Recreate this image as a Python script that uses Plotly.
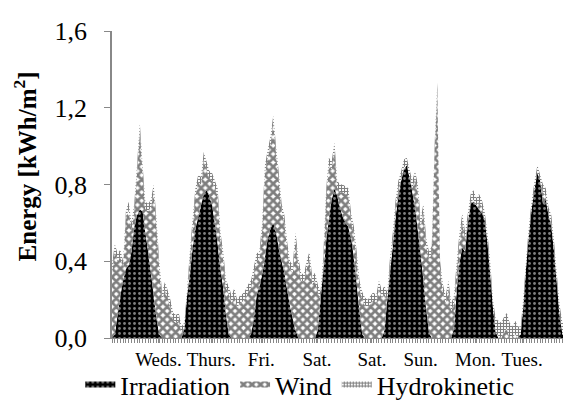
import plotly.graph_objects as go

# hourly samples over one week
hours = list(range(168))

irradiation = [
    0.00, 0.02, 0.12, 0.22, 0.30, 0.36, 0.38, 0.45, 0.58, 0.64, 0.67, 0.66,
    0.55, 0.45, 0.34, 0.22, 0.10, 0.02, 0.00, 0.00, 0.00, 0.00, 0.00, 0.00,
    0.00, 0.00, 0.05, 0.22, 0.33, 0.47, 0.57, 0.63, 0.69, 0.75, 0.77, 0.74,
    0.69, 0.60, 0.49, 0.36, 0.26, 0.12, 0.02, 0.00, 0.00, 0.00, 0.00, 0.00,
    0.00, 0.00, 0.02, 0.10, 0.22, 0.27, 0.33, 0.42, 0.52, 0.57, 0.60, 0.55,
    0.47, 0.40, 0.34, 0.25, 0.17, 0.10, 0.04, 0.00, 0.00, 0.00, 0.00, 0.00,
    0.00, 0.00, 0.04, 0.20, 0.35, 0.50, 0.62, 0.72, 0.78, 0.74, 0.68, 0.63,
    0.60, 0.58, 0.52, 0.42, 0.28, 0.14, 0.02, 0.00, 0.00, 0.00, 0.00, 0.00,
    0.00, 0.00, 0.04, 0.20, 0.34, 0.48, 0.63, 0.74, 0.82, 0.88, 0.90, 0.84,
    0.76, 0.68, 0.56, 0.44, 0.30, 0.15, 0.03, 0.00, 0.00, 0.00, 0.00, 0.00,
    0.00, 0.00, 0.00, 0.05, 0.25, 0.40, 0.47, 0.45, 0.60, 0.70, 0.71, 0.69,
    0.67, 0.65, 0.62, 0.50, 0.34, 0.16, 0.03, 0.00, 0.00, 0.00, 0.00, 0.00,
    0.00, 0.00, 0.00, 0.02, 0.18, 0.38, 0.55, 0.68, 0.78, 0.86, 0.82, 0.70,
    0.72, 0.64, 0.58, 0.45, 0.28, 0.12, 0.02, 0.00, 0.00, 0.00, 0.00, 0.00,
]

wind = [
    0.34, 0.43, 0.28, 0.20, 0.07, 0.27, 0.29, 0.11, 0.08, 0.22, 0.41, 0.20,
    0.12, 0.21, 0.34, 0.54, 0.48, 0.34, 0.20, 0.25, 0.21, 0.16, 0.09, 0.08,
    0.09, 0.03, 0.00, 0.00, 0.09, 0.11, 0.17, 0.18, 0.11, 0.18, 0.11, 0.09,
    0.13, 0.18, 0.25, 0.15, 0.15, 0.14, 0.21, 0.18, 0.22, 0.16, 0.18, 0.19,
    0.21, 0.24, 0.24, 0.23, 0.18, 0.14, 0.23, 0.44, 0.42, 0.44, 0.52, 0.41,
    0.35, 0.26, 0.26, 0.21, 0.19, 0.24, 0.47, 0.38, 0.30, 0.29, 0.36, 0.41,
    0.28, 0.30, 0.20, 0.00, 0.04, 0.23, 0.28, 0.16, 0.20, 0.04, 0.08, 0.13,
    0.15, 0.16, 0.09, 0.12, 0.13, 0.12, 0.18, 0.17, 0.16, 0.18, 0.20, 0.18,
    0.26, 0.21, 0.19, 0.00, 0.04, 0.03, 0.05, 0.04, 0.01, 0.01, 0.00, 0.00,
    0.02, 0.15, 0.20, 0.14, 0.36, 0.33, 0.38, 0.44, 0.96, 1.29, 0.36, 0.24,
    0.18, 0.26, 0.14, 0.13, 0.11, 0.11, 0.14, 0.06, 0.01, 0.01, 0.01, 0.00,
    0.04, 0.03, 0.00, 0.01, 0.02, 0.00, 0.00, 0.01, 0.00, 0.03, 0.05, 0.00,
    0.00, 0.02, 0.00, 0.00, 0.00, 0.00, 0.00, 0.00, 0.00, 0.00, 0.00, 0.06,
    0.02, 0.00, 0.02, 0.01, 0.01, 0.00, 0.00, 0.00, 0.00, 0.00, 0.00, 0.00,
]

hydrokinetic = [
    0.04, 0.04, 0.04, 0.04, 0.03, 0.03, 0.04, 0.04, 0.04, 0.04, 0.04, 0.04,
    0.04, 0.04, 0.04, 0.04, 0.04, 0.04, 0.04, 0.04, 0.04, 0.04, 0.04, 0.04,
    0.04, 0.03, 0.03, 0.03, 0.03, 0.04, 0.04, 0.04, 0.04, 0.04, 0.04, 0.04,
    0.04, 0.04, 0.04, 0.04, 0.04, 0.04, 0.04, 0.04, 0.04, 0.04, 0.04, 0.04,
    0.04, 0.04, 0.04, 0.04, 0.04, 0.04, 0.04, 0.04, 0.04, 0.04, 0.04, 0.04,
    0.04, 0.04, 0.04, 0.04, 0.04, 0.04, 0.04, 0.04, 0.04, 0.04, 0.04, 0.04,
    0.04, 0.04, 0.04, 0.04, 0.04, 0.04, 0.04, 0.04, 0.04, 0.04, 0.04, 0.04,
    0.04, 0.04, 0.04, 0.04, 0.04, 0.04, 0.04, 0.04, 0.04, 0.04, 0.04, 0.04,
    0.04, 0.04, 0.04, 0.04, 0.04, 0.04, 0.04, 0.04, 0.04, 0.04, 0.04, 0.04,
    0.04, 0.04, 0.04, 0.04, 0.04, 0.04, 0.04, 0.04, 0.04, 0.04, 0.04, 0.04,
    0.04, 0.04, 0.04, 0.04, 0.04, 0.04, 0.04, 0.04, 0.04, 0.04, 0.05, 0.04,
    0.04, 0.04, 0.04, 0.04, 0.04, 0.04, 0.07, 0.08, 0.08, 0.08, 0.08, 0.08,
    0.06, 0.07, 0.06, 0.04, 0.04, 0.04, 0.04, 0.04, 0.04, 0.04, 0.03, 0.04,
    0.04, 0.04, 0.04, 0.04, 0.04, 0.05, 0.06, 0.08, 0.08, 0.08, 0.08, 0.08,
]

day_labels = ["Weds.", "Thurs.", "Fri.", "Sat.", "Sat.", "Sun.", "Mon.", "Tues."]
day_label_pos = [16.7, 35.7, 53.7, 73.7, 93.5, 111, 130.7, 147.5]

FONT = "'Times New Roman', 'Liberation Serif', serif"

fig = go.Figure()
fig.add_trace(go.Scatter(
    x=hours, y=irradiation, name="Irradiation", stackgroup="one", mode="none",
    fillcolor="black",
    fillpattern=dict(shape=".", bgcolor="black", fgcolor="white", size=5, solidity=0.25),
))
fig.add_trace(go.Scatter(
    x=hours, y=wind, name="Wind", stackgroup="one", mode="none",
    fillcolor="white",
    fillpattern=dict(shape="x", bgcolor="white", fgcolor="black", size=6, solidity=0.7),
))
fig.add_trace(go.Scatter(
    x=hours, y=hydrokinetic, name="Hydrokinetic", stackgroup="one", mode="none",
    fillcolor="white",
    fillpattern=dict(shape="+", bgcolor="white", fgcolor="black", size=3, solidity=0.6),
))

fig.update_layout(
    width=571, height=401,
    margin=dict(l=104, r=1, t=23, b=68),
    paper_bgcolor="white", plot_bgcolor="white",
    separators=",.",
    font=dict(family=FONT, color="black"),
    showlegend=True,
    legend=dict(
        orientation="h", x=-0.068, y=-0.152, xanchor="left", yanchor="middle",
        font=dict(family=FONT, size=26, color="black"),
        traceorder="normal", itemwidth=30, tracegroupgap=0,
        bgcolor="rgba(0,0,0,0)",
    ),
    xaxis=dict(
        range=[0, 167.6], showgrid=False, zeroline=False,
        showline=True, linecolor="#888888", linewidth=1,
        tickmode="array", tickvals=day_label_pos, ticktext=day_labels,
        ticks="outside", ticklen=4, tickcolor="#888888",
        tickfont=dict(family=FONT, size=19, color="black"),
        minor=dict(dtick=1, tick0=0, ticks="outside", ticklen=4, tickcolor="#888888", showgrid=False),
    ),
    yaxis=dict(
        range=[0, 1.6], tickvals=[0, 0.4, 0.8, 1.2, 1.6], tickformat=".1f",
        showgrid=False, zeroline=False,
        showline=True, linecolor="#888888", linewidth=1.5,
        ticks="outside", ticklen=6, tickcolor="#888888",
        ticklabelstandoff=12,
        tickfont=dict(family=FONT, size=26, color="black"),
    ),
    annotations=[dict(
        text="<b>Energy [kWh/m<sup>2</sup>]</b>", textangle=-90,
        xref="paper", yref="paper", x=-0.186, y=0.56,
        xanchor="center", yanchor="middle", showarrow=False,
        font=dict(family=FONT, size=25, color="black"),
    )],
)

fig.write_html("out.html")
